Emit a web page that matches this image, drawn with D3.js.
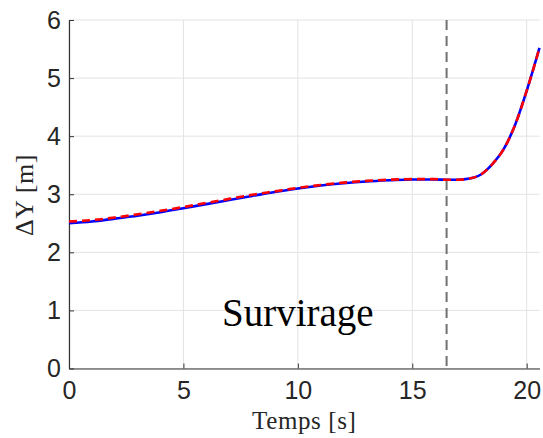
<!DOCTYPE html>
<html><head><meta charset="utf-8">
<script src="https://cdn.jsdelivr.net/npm/d3@7"></script>
<style>body{margin:0;background:#fff}svg{display:block}</style>
</head><body>
<script>
const time = [0,1,2,3,4,5,6,7,8,9,10,11,12,13,14,15,16,16.5,17,17.5,18,18.5,19,19.5,20,20.56];
const blueY = [2.50,2.53,2.58,2.63,2.69,2.76,2.83,2.90,2.97,3.04,3.10,3.15,3.19,3.22,3.24,3.255,3.255,3.25,3.25,3.27,3.34,3.52,3.78,4.20,4.78,5.52];
const redY  = [2.53,2.555,2.60,2.655,2.715,2.78,2.85,2.92,2.99,3.05,3.11,3.16,3.20,3.23,3.25,3.26,3.26,3.25,3.25,3.27,3.34,3.52,3.78,4.20,4.78,5.52];
const xTicks = [0,5,10,15,20];
const yTicks = [0,1,2,3,4,5,6];
const markerT = 16.5;
const xLabel = "Temps [s]";
const yLabel = "ΔY [m]";
const annot = "Survirage";

const W=543,H=438;
const svg=d3.select("body").append("svg").attr("width",W).attr("height",H);
const x=d3.scaleLinear().domain([0,20.56]).range([69,539.5]);
const y=d3.scaleLinear().domain([0,6]).range([368.5,20]);

// grid
svg.append("g").selectAll("line").data(xTicks).join("line")
  .attr("x1",d=>x(d)).attr("x2",d=>x(d)).attr("y1",y(0)).attr("y2",y(6))
  .attr("stroke","#e3e3e3").attr("stroke-width",1);
svg.append("g").selectAll("line").data(yTicks).join("line")
  .attr("x1",x(0)).attr("x2",x(20.56)).attr("y1",d=>y(d)).attr("y2",d=>y(d))
  .attr("stroke","#e3e3e3").attr("stroke-width",1);

// axes
const xa=d3.axisBottom(x).tickValues(xTicks).tickFormat(d3.format("d")).tickSizeInner(-5).tickSizeOuter(0).tickPadding(13);
const ya=d3.axisLeft(y).tickValues(yTicks).tickFormat(d3.format("d")).tickSizeInner(-5).tickSizeOuter(0).tickPadding(8);
const gx=svg.append("g").attr("transform",`translate(0,${y(0)})`).call(xa);
const gy=svg.append("g").attr("transform",`translate(${x(0)},0)`).call(ya);
[gx,gy].forEach(g=>{
  g.attr("font-size",null).attr("font-family",null);
  g.select(".domain").attr("stroke","#333").attr("stroke-width",1.2);
  g.selectAll(".tick line").attr("stroke","#333");
  g.selectAll(".tick text").attr("fill","#262626").style("font-family","'Liberation Sans',Arial,sans-serif").style("font-size","25px");
});

// vertical dashed marker
svg.append("line").attr("x1",x(markerT)).attr("x2",x(markerT)).attr("y1",y(6)).attr("y2",y(0))
  .attr("stroke","#707070").attr("stroke-width",2).attr("stroke-dasharray","10,6");

const line=d3.line().curve(d3.curveMonotoneX);
const bluePts=time.map((t,i)=>[x(t),y(blueY[i])]);
const redPts=time.map((t,i)=>[x(t),y(redY[i])]);
svg.append("path").attr("d",line(bluePts)).attr("fill","none").attr("stroke","#0000ff").attr("stroke-width",2.6);
svg.append("path").attr("d",line(redPts)).attr("fill","none").attr("stroke","#ff0000").attr("stroke-width",2.6).attr("stroke-dasharray","8,5");

// labels
svg.append("text").attr("x",(x(0)+x(20.56))/2).attr("y",429).attr("text-anchor","middle")
  .style("font-family","'Liberation Serif','Times New Roman',serif").style("font-size","25px").style("letter-spacing","0.6px").attr("fill","#262626").text(xLabel);
svg.append("text").attr("transform",`translate(33,195) rotate(-90)`).attr("text-anchor","middle")
  .style("font-family","'Liberation Serif','Times New Roman',serif").style("font-size","26px").style("letter-spacing","0.6px").attr("fill","#262626").text(yLabel);
svg.append("text").attr("x",x(10)).attr("y",y(0.73)).attr("text-anchor","middle")
  .style("font-family","'Liberation Serif','Times New Roman',serif").style("font-size","39px").attr("fill","#000").text(annot);
</script>
</body></html>
